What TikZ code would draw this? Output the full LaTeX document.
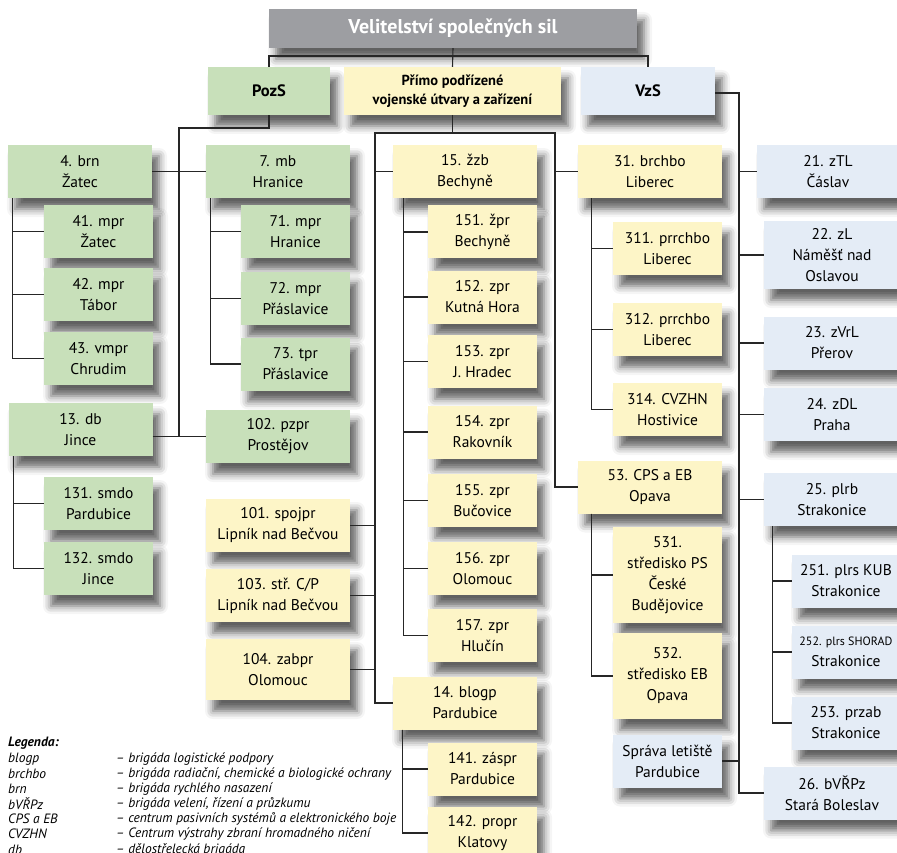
\documentclass[tikz,border=0pt]{standalone}
\usepackage{fontspec}
\setmainfont{PT Sans}
\usepackage{xcolor}
\usetikzlibrary{shadows.blur}

\definecolor{pozgreen}{RGB}{200,224,186}
\definecolor{primyellow}{RGB}{253,245,199}
\definecolor{vzsblue}{RGB}{228,236,246}
\definecolor{titlegray}{RGB}{157,158,162}

\tikzstyle{unit} = [rectangle, align=center, inner sep=0pt, font=\fontsize{15.5}{21}\selectfont,
blur shadow={shadow xshift=7pt, shadow yshift=-11pt, shadow blur radius=8pt, shadow opacity=62}]
\tikzstyle{gbox} = [unit, fill=pozgreen, minimum width=144pt, minimum height=53pt]
\tikzstyle{gsub} = [unit, fill=pozgreen, minimum width=109pt, minimum height=53pt]
\tikzstyle{ybox} = [unit, fill=primyellow, minimum width=144pt, minimum height=53pt]
\tikzstyle{ysub} = [unit, fill=primyellow, minimum width=109pt, minimum height=53pt]
\tikzstyle{bbox} = [unit, fill=vzsblue, minimum width=136pt, minimum height=53pt]
\tikzstyle{bsub} = [unit, fill=vzsblue, minimum width=108pt, minimum height=53pt]
\tikzstyle{head} = [unit, minimum height=48pt, font=\bfseries\fontsize{16.5}{19}\selectfont]
\tikzstyle{link} = [line width=1.1pt, draw=black!85]
\tikzstyle{legtitle} = [anchor=west, inner sep=0pt, font=\bfseries\itshape\fontsize{13.5}{15}\selectfont]
\tikzstyle{legkey} = [anchor=west, inner sep=0pt, font=\itshape\fontsize{13.5}{15}\selectfont]

\begin{document}
\begin{tikzpicture}[x=1pt, y=-1pt]
        \path[use as bounding box, clip] (0,0) rectangle (897,853);

        % Top level
        \draw (453,28.5) node[unit, fill=titlegray, text=white, minimum width=368pt, minimum height=39pt,
            font=\bfseries\fontsize{20}{22}\selectfont] (vss) {Velitelství společných sil};
        \draw (269,91) node[head, fill=pozgreen, minimum width=122pt] (pozs) {PozS};
        \draw (452.5,91) node[head, fill=primyellow, minimum width=217pt,
            font=\bfseries\fontsize{14.5}{19}\selectfont] (prime) {Přímo podřízené\\vojenské útvary a zařízení};
        \draw (648,91) node[head, fill=vzsblue, minimum width=134pt] (vzs) {VzS};

        % PozS
        \draw (80,171.5) node[gbox] (brn) {4. brn\\Žatec};
        \draw (98.5,231.5) node[gsub] (mpr41) {41. mpr\\Žatec};
        \draw (98.5,294.5) node[gsub] (mpr42) {42. mpr\\Tábor};
        \draw (98.5,358.5) node[gsub] (vmpr43) {43. vmpr\\Chrudim};
        \draw (80.5,429.5) node[gbox] (db) {13. db\\Jince};
        \draw (98.5,503.5) node[gsub] (smdo131) {131. smdo\\Pardubice};
        \draw (98.5,568.5) node[gsub] (smdo132) {132. smdo\\Jince};

        \draw (278,171.5) node[gbox] (mb) {7. mb\\Hranice};
        \draw (295.5,231.5) node[gsub] (mpr71) {71. mpr\\Hranice};
        \draw (295.5,298.5) node[gsub] (mpr72) {72. mpr\\Přáslavice};
        \draw (295.5,364) node[gsub] (tpr73) {73. tpr\\Přáslavice};
        \draw (278,436.5) node[gbox] (pzpr) {102. pzpr\\Prostějov};

        % Primo podrizene
        \draw (278,525.5) node[ybox] (spojpr101) {101. spojpr\\Lipník nad Bečvou};
        \draw (278,595.5) node[ybox] (strcp103) {103. stř. C/P\\Lipník nad Bečvou};
        \draw (278,669.5) node[ybox, minimum height=61pt] (zabpr104) {104. zabpr\\Olomouc};

        \draw (465,171.5) node[ybox] (zzb) {15. žzb\\Bechyně};
        \draw (482.5,232) node[ysub] (zpr151) {151. žpr\\Bechyně};
        \draw (482.5,297) node[ysub] (zpr152) {152. zpr\\Kutná Hora};
        \draw (482.5,361.5) node[ysub] (zpr153) {153. zpr\\J. Hradec};
        \draw (482.5,432) node[ysub] (zpr154) {154. zpr\\Rakovník};
        \draw (482.5,500.5) node[ysub] (zpr155) {155. zpr\\Bučovice};
        \draw (482.5,568.5) node[ysub] (zpr156) {156. zpr\\Olomouc};
        \draw (482.5,635.5) node[ysub] (zpr157) {157. zpr\\Hlučín};
        \draw (465,703) node[ybox] (blogp) {14. blogp\\Pardubice};
        \draw (482.5,769) node[ysub] (zaspr141) {141. záspr\\Pardubice};
        \draw (482.5,833) node[ysub] (propr142) {142. propr\\Klatovy};

        \draw (650,171.5) node[ybox] (brchbo) {31. brchbo\\Liberec};
        \draw (667.5,248.5) node[ysub] (prrchbo311) {311. prrchbo\\Liberec};
        \draw (667.5,329.5) node[ysub] (prrchbo312) {312. prrchbo\\Liberec};
        \draw (667.5,409.5) node[ysub] (cvzhn314) {314. CVZHN\\Hostivice};
        \draw (650,487) node[ybox] (cps) {53. CPS a EB\\Opava};
        \draw (667.5,575) node[ysub, minimum height=96pt] (stred531) {531.\\středisko PS\\České\\Budějovice};
        \draw (667.5,676) node[ysub, minimum height=86pt] (stred532) {532.\\středisko EB\\Opava};
        \draw (667.5,761) node[ysub, fill=vzsblue] (sprava) {Správa letiště\\Pardubice};

        % VzS
        \draw (828,171.5) node[bbox, minimum width=142pt] (ztl21) {21. zTL\\Čáslav};
        \draw (832,255) node[bbox, minimum height=68pt] (zl22) {22. zL\\Náměšť nad\\Oslavou};
        \draw (832,343) node[bbox] (zvrl23) {23. zVrL\\Přerov};
        \draw (832,414.5) node[bbox] (zdl24) {24. zDL\\Praha};
        \draw (832,499.5) node[bbox] (plrb25) {25. plrb\\Strakonice};
        \draw (846,581) node[bsub] (plrs251) {251. plrs KUB\\Strakonice};
        \draw (846,652) node[bsub] (plrs252) {{\fontsize{12}{14}\selectfont 252. plrs SHORAD}\\Strakonice};
        \draw (846,723) node[bsub] (przab253) {253. przab\\Strakonice};
        \draw (832,793) node[bbox] (bvrpz) {26. bVŘPz\\Stará Boleslav};

        % Lines
        \coordinate (topbus) at (453,56);
        \coordinate (pbus) at (179,128);
        \coordinate (mbus) at (375,133);
        \coordinate (rbus) at (555,133);
        \coordinate (vbus) at (739,93);

        \draw[link] (pozs.north) |- (topbus) -| (vzs.north);
        \draw[link] (vss.south) -- (prime.north);

        \draw[link] (pozs.south) |- (pbus) -- (pbus |- pzpr.west);
        \draw[link] (brn.east) -- (mb.west);
        \draw[link] (db.east |- pzpr.west) -- (pzpr.west);
        \foreach \c in {mpr41,mpr42,vmpr43}
            \draw[link] ([xshift=5pt]brn.south west) |- (\c.west);
        \foreach \c in {smdo131,smdo132}
            \draw[link] ([xshift=5pt]db.south west) |- (\c.west);
        \foreach \c in {mpr71,mpr72,tpr73}
            \draw[link] ([xshift=5pt]mb.south west) |- (\c.west);

        \draw[link] (prime.south) -- (prime.south |- mbus);
        \draw[link] (zzb.west) -| (mbus) -- (rbus) |- (cps.west);
        \draw[link] (mbus) |- (blogp.west);
        \draw[link] (rbus) |- (brchbo.west);
        \foreach \c in {spojpr101,strcp103,zabpr104}
            \draw[link] (\c.east) -- (\c.east -| mbus);
        \foreach \c in {zpr151,zpr152,zpr153,zpr154,zpr155,zpr156,zpr157}
            \draw[link] ([xshift=11pt]zzb.south west) |- (\c.west);
        \foreach \c in {zaspr141,propr142}
            \draw[link] ([xshift=10pt]blogp.south west) |- (\c.west);
        \foreach \c in {prrchbo311,prrchbo312,cvzhn314}
            \draw[link] ([xshift=14pt]brchbo.south west) |- (\c.west);
        \foreach \c in {stred531,stred532}
            \draw[link] ([xshift=14pt]cps.south west) |- (\c.west);

        \draw[link] (vzs.east |- vbus) -- (vbus) |- (bvrpz.west);
        \foreach \c in {ztl21,zl22,zvrl23,zdl24,plrb25}
            \draw[link] (\c.west) -- (\c.west -| vbus);
        \draw[link] (sprava.east) -- (sprava.east -| vbus);
        \foreach \c in {plrs251,plrs252,przab253}
            \draw[link] ([xshift=9pt]plrb25.south west) |- (\c.west);

        % Legend
        \draw (8,743) node[legtitle] (leg) {Legenda:};
        \draw (8,759) node[legkey] (kblogp) {blogp};
        \draw (116,759) node[legkey] (tblogp) {– brigáda logistické podpory};
        \draw (8,774) node[legkey] (kbrchbo) {brchbo};
        \draw (116,774) node[legkey] (tbrchbo) {– brigáda radiační, chemické a biologické ochrany};
        \draw (8,789) node[legkey] (kbrn) {brn};
        \draw (116,789) node[legkey] (tbrn) {– brigáda rychlého nasazení};
        \draw (8,804) node[legkey] (kbvrpz) {bVŘPz};
        \draw (116,804) node[legkey] (tbvrpz) {– brigáda velení, řízení a průzkumu};
        \draw (8,819) node[legkey] (kcps) {CPS a EB};
        \draw (116,819) node[legkey] (tcps) {– centrum pasivních systémů a elektronického boje};
        \draw (8,834) node[legkey] (kcvzhn) {CVZHN};
        \draw (116,834) node[legkey] (tcvzhn) {– Centrum výstrahy zbraní hromadného ničení};
        \draw (8,850) node[legkey] (kdb) {db};
        \draw (116,850) node[legkey] (tdb) {– dělostřelecká brigáda};
    \end{tikzpicture}
\end{document}
